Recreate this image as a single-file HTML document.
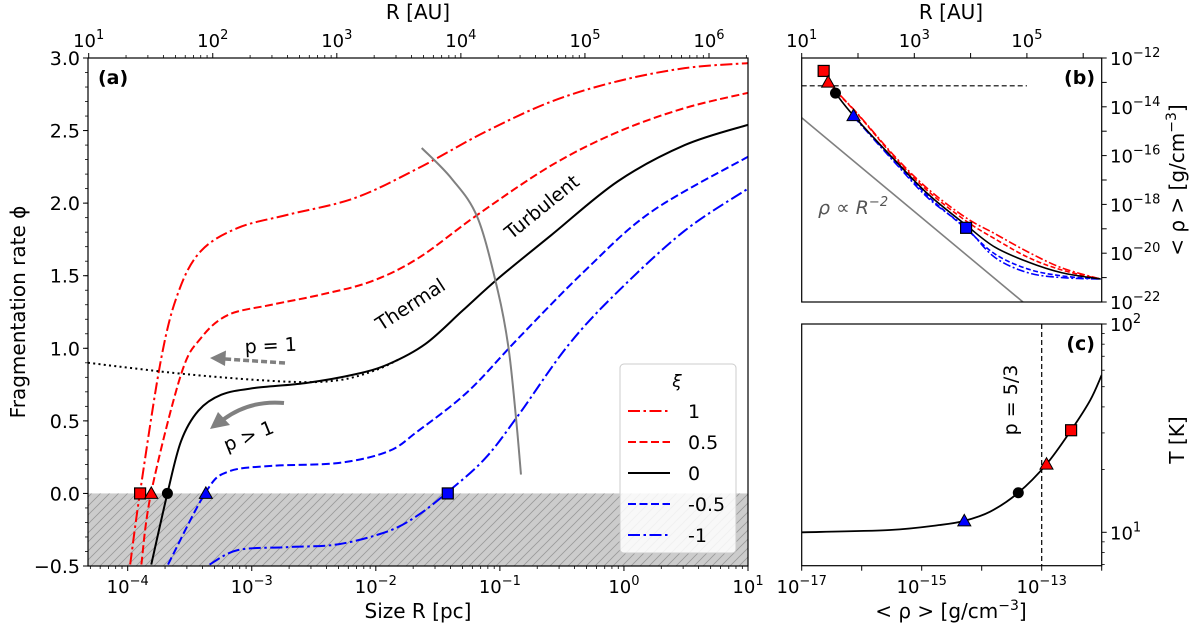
<!DOCTYPE html>
<html><head><meta charset="utf-8"><style>
body{margin:0;background:#fff}
svg{display:block;font-family:"DejaVu Sans","Liberation Sans",sans-serif}
</style></head><body>
<svg id="fig" width="1200" height="633" viewBox="0 0 1200 633" xmlns="http://www.w3.org/2000/svg">
<defs>
<pattern id="hatch" patternUnits="userSpaceOnUse" width="9" height="9">
<path d="M0,9 L9,0 M-2,2 L2,-2 M7,11 L11,7" stroke="#999" stroke-width="0.8"/>
</pattern>
<clipPath id="clipA"><rect x="88" y="58" width="660" height="508"/></clipPath>
<clipPath id="clipB"><rect x="801.7" y="58" width="300" height="244"/></clipPath>
<clipPath id="clipC"><rect x="801.7" y="324" width="300" height="241.7"/></clipPath>
</defs>
<g id="gA"></g>
<g id="gB"></g>
<g id="gC"></g>
</svg>
<script>
// ---------- Panel (a) data: log10 R[pc], phi ----------
const aXi1R = [-3.98,-3.90,-3.73,-3.59,-3.41,-3.11,-2.71,-2.17,-1.66,-1.12,-0.585,-0.05,0.49,1.0];
const aXi1P = [-0.49,0.01,0.93,1.39,1.67,1.83,1.92,2.035,2.24,2.49,2.70,2.84,2.93,2.965];
const aXi05R = [-3.89,-3.81,-3.57,-3.41,-3.19,-2.84,-2.44,-2.04,-1.66,-1.18,-0.585,-0.05,0.49,1.0];
const aXi05P = [-0.49,0.01,0.82,1.07,1.23,1.30,1.37,1.46,1.62,1.92,2.26,2.49,2.655,2.76];
const aXi0R = [-3.81,-3.68,-3.57,-3.43,-3.245,-2.98,-2.57,-2.17,-1.90,-1.60,-1.30,-1.015,-0.585,-0.05,0.49,1.0];
const aXi0P = [-0.49,0.0,0.36,0.57,0.68,0.726,0.76,0.82,0.89,1.03,1.26,1.48,1.78,2.15,2.40,2.54];
const aXim05R = [-3.675,-3.37,-3.19,-2.84,-2.30,-1.90,-1.66,-1.26,-0.85,-0.32,0.22,1.0];
const aXim05P = [-0.49,0.01,0.15,0.19,0.21,0.29,0.43,0.70,1.07,1.53,1.94,2.32];
const aXim1R = [-3.34,-3.11,-2.71,-2.30,-1.90,-1.66,-1.42,-1.12,-0.85,-0.45,-0.05,0.49,1.0];
const aXim1P = [-0.49,-0.39,-0.37,-0.35,-0.26,-0.15,0.01,0.24,0.54,1.02,1.39,1.81,2.10];
const aDotR = [-4.32,-3.51,-2.71,-2.30,-2.0,-1.8];
const aDotP = [0.90,0.82,0.77,0.78,0.85,0.93];
const aGrayR = [-1.63,-1.39,-1.18,-1.015,-0.93,-0.87,-0.83];
const aGrayP = [2.38,2.17,1.90,1.39,1.00,0.52,0.13];
const aMarkR = [-3.90,-3.81,-3.68,-3.37,-1.42];
const aMarkP = [0,0,0,0,0];
const aYTicks = [-0.5,0.0,0.5,1.0,1.5,2.0,2.5,3.0];
const aYTickLabels = ["\u22120.5","0.0","0.5","1.0","1.5","2.0","2.5","3.0"];
const aXTicks = [-4,-3,-2,-1,0,1];
const aTopTicks = [1,2,3,4,5,6];
const legendLabels = ["1","0.5","0","-0.5","-1"];
// ---------- Panel (b) data: log10 R[AU], log10 rho ----------
const bXi1R = [1.39,1.6,2.0,2.66,3.25,3.92,4.43,5.02,5.62,6.31];
const bXi1D = [-12.53,-13.3,-14.3,-16.05,-17.38,-18.55,-19.2,-19.95,-20.6,-21.06];
const bXi05R = [1.47,1.6,2.0,2.66,3.25,3.92,4.43,5.02,5.62,6.31];
const bXi05D = [-12.99,-13.35,-14.32,-16.1,-17.47,-18.68,-19.41,-20.17,-20.69,-21.06];
const bXi0R = [1.60,1.92,2.66,3.25,3.92,4.43,5.02,5.62,6.31];
const bXi0D = [-13.44,-14.36,-16.2,-17.59,-18.85,-19.75,-20.36,-20.80,-21.06];
const bXim05R = [1.92,2.66,3.25,3.92,4.43,5.02,5.62,6.31];
const bXim05D = [-14.36,-16.25,-17.68,-19.0,-20.03,-20.65,-20.93,-21.06];
const bXim1R = [1.92,2.66,3.25,3.92,4.43,5.02,5.62,6.31];
const bXim1D = [-14.4,-16.3,-17.75,-18.96,-20.17,-20.8,-21.0,-21.06];
const bSlopeR = [1.0,4.93];
const bSlopeD = [-14.45,-22.0];
const bMarkR = [1.39,1.47,1.60,1.92,3.92];
const bMarkD = [-12.53,-12.99,-13.44,-14.36,-18.96];
const bHLine = -13.14;
const bYLabels = [-12,-14,-16,-18,-20,-22];
const bXLabels = [1,3,5];
// ---------- Panel (c) data: log10 rho, log10 T ----------
const cRho = [-17,-15.53,-14.7,-14.29,-13.86,-13.39,-12.92,-12.51,-12.19,-12.0];
const cT = [1.0,1.011,1.035,1.055,1.099,1.19,1.327,1.49,1.635,1.755];
const cMarkRho = [-14.29,-13.39,-12.92,-12.51];
const cMarkT = [1.055,1.19,1.327,1.49];
const cVLine = -13;
const cXLabels = [-17,-15,-13];

const NS="http://www.w3.org/2000/svg";
function el(parent,tag,attrs,text){const e=document.createElementNS(NS,tag);for(const k in attrs)e.setAttribute(k,attrs[k]);if(text!==undefined)e.textContent=text;parent.appendChild(e);return e;}
function smooth(pts){let d="M"+pts[0][0].toFixed(2)+","+pts[0][1].toFixed(2);for(let i=0;i<pts.length-1;i++){const p0=pts[i-1]||pts[i],p1=pts[i],p2=pts[i+1],p3=pts[i+2]||p2;const c1=[p1[0]+(p2[0]-p0[0])/6,p1[1]+(p2[1]-p0[1])/6],c2=[p2[0]-(p3[0]-p1[0])/6,p2[1]-(p3[1]-p1[1])/6];d+=" C"+c1[0].toFixed(2)+","+c1[1].toFixed(2)+" "+c2[0].toFixed(2)+","+c2[1].toFixed(2)+" "+p2[0].toFixed(2)+","+p2[1].toFixed(2);}return d;}
function pow10(parent,x,y,exp,anchor,fs){const t=el(parent,'text',{x:x,y:y,'font-size':fs||18,'text-anchor':anchor||'middle',fill:'#000'});const a=document.createElementNS(NS,'tspan');a.textContent='10';t.appendChild(a);const b=document.createElementNS(NS,'tspan');b.setAttribute('dy','-8');b.setAttribute('font-size','13');b.textContent=String(exp).replace('-','\u2212');t.appendChild(b);return t;}
function marker(parent,type,x,y,fill){let m;if(type==='sq')m=el(parent,'rect',{x:x-5.5,y:y-5.5,width:11,height:11,fill:fill,stroke:'#000','stroke-width':1.2});else if(type==='tri')m=el(parent,'polygon',{points:(x)+','+(y-6.5)+' '+(x-6.5)+','+(y+5)+' '+(x+6.5)+','+(y+5),fill:fill,stroke:'#000','stroke-width':1});else m=el(parent,'circle',{cx:x,cy:y,r:5.5,fill:'#000'});return m;}
const DD="12,3.5,2.5,3.5", DA="8,3.5";
const styles=[{c:'#ff0000',d:DD},{c:'#ff0000',d:DA},{c:'#000',d:''},{c:'#0000ff',d:DA},{c:'#0000ff',d:DD}];
const mtypes=[['sq','#ff0000'],['tri','#ff0000'],['ci','#000'],['tri','#0000ff'],['sq','#0000ff']];

// ================= Panel A =================
(function(){
const g=document.getElementById('gA');
const X=l=>88+(l+4.32)*660/5.32, Y=p=>566-(p+0.5)*508/3.5;
const sh=el(g,'rect',{x:88,y:Y(0),width:660,height:566-Y(0),fill:'#cccccc'});

el(g,'rect',{x:88,y:Y(0),width:660,height:566-Y(0),fill:'url(#hatch)'});
const cg=el(g,'g',{'clip-path':'url(#clipA)'});
const series=[[aXi1R,aXi1P],[aXi05R,aXi05P],[aXi0R,aXi0P],[aXim05R,aXim05P],[aXim1R,aXim1P]];
const names=['curve-xi-1','curve-xi-0.5','curve-xi-0','curve-xi-minus-0.5','curve-xi-minus-1'];
series.forEach((s,i)=>{const pts=s[0].map((r,j)=>[X(r),Y(s[1][j])]);const p=el(cg,'path',{d:smooth(pts),fill:'none',stroke:styles[i].c,'stroke-width':2,'stroke-dasharray':styles[i].d});
});
const dp=el(cg,'path',{d:smooth(aDotR.map((r,j)=>[X(r),Y(aDotP[j])])),fill:'none',stroke:'#000','stroke-width':2,'stroke-dasharray':'2,3.3'});

const gp=el(cg,'path',{d:smooth(aGrayR.map((r,j)=>[X(r),Y(aGrayP[j])])),fill:'none',stroke:'#808080','stroke-width':2});

aMarkR.forEach((r,i)=>{const m=marker(g,mtypes[i][0],X(r),Y(aMarkP[i]),mtypes[i][1]);});
const ar1=el(g,'path',{d:'M285,363 L225,359',stroke:'#808080','stroke-width':3.5,fill:'none','stroke-dasharray':'6,3'});

el(g,'polygon',{points:'210,358 226,350.5 225,366',fill:'#808080'});
const ar2=el(g,'path',{d:'M284,403 Q250,400 224,419',stroke:'#808080','stroke-width':4,fill:'none'});

el(g,'polygon',{points:'210,429 218,412 230,425',fill:'#808080'});
const t1=el(g,'text',{x:271,y:352,'font-size':19,'text-anchor':'middle',transform:'rotate(-3 271 352)'},'p = 1');
const t2=el(g,'text',{x:251,y:442,'font-size':19,'text-anchor':'middle',transform:'rotate(-22 251 442)'},'p > 1');
const t3=el(g,'text',{x:414,y:310,'font-size':19,'text-anchor':'middle',transform:'rotate(-33 414 310)'},'Thermal');
const t4=el(g,'text',{x:546,y:212,'font-size':19,'text-anchor':'middle',transform:'rotate(-39 546 212)'},'Turbulent');
const pl=el(g,'text',{x:98,y:84,'font-size':19,'font-weight':'bold'},'(a)');
const fr=el(g,'rect',{x:88,y:58,width:660,height:508,fill:'none',stroke:'#000','stroke-width':1.2});

aYTicks.forEach((v,i)=>{el(g,'line',{x1:83,x2:88,y1:Y(v),y2:Y(v),stroke:'#000'});const t=el(g,'text',{x:80,y:Y(v)+7,'font-size':19,'text-anchor':'end'},aYTickLabels[i]);});
for(let v=-0.5;v<3.0;v+=0.1){el(g,'line',{x1:85,x2:88,y1:Y(v),y2:Y(v),stroke:'#000','stroke-width':0.8});}
for(let d=-5;d<=1;d++){for(let k=1;k<10;k++){const l=d+Math.log10(k);if(l<-4.32||l>1.001)continue;const L=k===1?5:3;el(g,'line',{x1:X(l),x2:X(l),y1:566,y2:566+L,stroke:'#000','stroke-width':k===1?1:0.8});}}
aXTicks.forEach(d=>{const t=pow10(g,X(d),593,d);});
const off=Math.log10(206265);
for(let d=1;d<=6;d++){for(let k=1;k<10;k++){const l=d+Math.log10(k)-off;if(l<-4.33||l>1.001)continue;const L=k===1?5:3;el(g,'line',{x1:X(l),x2:X(l),y1:58,y2:58-L,stroke:'#000','stroke-width':k===1?1:0.8});}}
aTopTicks.forEach(d=>{const t=pow10(g,X(d-off),47,d);});
const xl=el(g,'text',{x:418,y:618,'font-size':20,'text-anchor':'middle'},'Size R [pc]');
const tl=el(g,'text',{x:418,y:19,'font-size':20,'text-anchor':'middle'},'R [AU]');
const yl=el(g,'text',{x:25,y:312,'font-size':20,'text-anchor':'middle',transform:'rotate(-90 25 312)'},'Fragmentation rate \u03d5');
const lg=el(g,'g',{});
el(lg,'rect',{x:620,y:364,width:116,height:189,rx:4,fill:'#fff','fill-opacity':0.85,stroke:'#ccc'});
el(lg,'text',{x:677,y:387,'font-size':17,'font-style':'italic','text-anchor':'middle'},'\u03be');
legendLabels.forEach((lab,i)=>{const y=411+i*31;const e=el(lg,'g',{});
el(e,'line',{x1:628,x2:670,y1:y,y2:y,stroke:styles[i].c,'stroke-width':2,'stroke-dasharray':styles[i].d});el(e,'text',{x:688,y:y+7,'font-size':19},lab);});
})();

// ================= Panel B =================
(function(){
const g=document.getElementById('gB');
const X=l=>801.7+(l-1)*56.3, Y=l=>58+(-12-l)*24.4;
const cg=el(g,'g',{'clip-path':'url(#clipB)'});
const sl=el(cg,'line',{x1:X(bSlopeR[0]),y1:Y(bSlopeD[0]),x2:X(bSlopeR[1]),y2:Y(bSlopeD[1]),stroke:'#808080','stroke-width':1.6});

const hl=el(cg,'line',{x1:801.7,x2:X(5),y1:Y(bHLine),y2:Y(bHLine),stroke:'#000','stroke-width':1.2,'stroke-dasharray':'5,3'});

const series=[[bXi1R,bXi1D],[bXi05R,bXi05D],[bXi0R,bXi0D],[bXim05R,bXim05D],[bXim1R,bXim1D]];
[0,1,3,4,2].forEach(i=>{const s=series[i];const pts=s[0].map((r,j)=>[X(r),Y(s[1][j])]);const p=el(cg,'path',{d:smooth(pts),fill:'none',stroke:styles[i].c,'stroke-width':1.6,'stroke-dasharray':styles[i].d?(i===0||i===4?'8,2.5,2,2.5':'5,2.5'):''});
});
bMarkR.forEach((r,i)=>{const m=marker(g,mtypes[i][0],X(r),Y(bMarkD[i]),mtypes[i][1]);});
const tx=el(g,'text',{x:818,y:214,'font-size':19,fill:'#555','font-style':'italic'});
tx.innerHTML='\u03c1 \u221d R<tspan dy="-8" font-size="13">\u22122</tspan>';
el(g,'rect',{x:801.7,y:58,width:300,height:244,fill:'none',stroke:'#000','stroke-width':1.2});
const pl=el(g,'text',{x:1095,y:84,'font-size':19,'font-weight':'bold','text-anchor':'end'},'(b)');
for(let d=-22;d<=-12;d++){el(g,'line',{x1:1101.7,x2:1106.7,y1:Y(d),y2:Y(d),stroke:'#000'});}
bYLabels.forEach(d=>{const t=pow10(g,1110,Y(d)+7,d,'start');});
for(let d=1;d<=6;d++){el(g,'line',{x1:X(d),x2:X(d),y1:58,y2:53,stroke:'#000'});}
bXLabels.forEach(d=>{const t=pow10(g,X(d),47,d);});
const tl=el(g,'text',{x:951,y:19,'font-size':20,'text-anchor':'middle'},'R [AU]');
const yl=el(g,'text',{x:1184,y:180,'font-size':20,'text-anchor':'middle',transform:'rotate(-90 1184 180)'});
yl.innerHTML='&lt; \u03c1 &gt;  [g/cm<tspan dy="-8" font-size="14">\u22123</tspan><tspan dy="8">]</tspan>';
})();

// ================= Panel C =================
(function(){
const g=document.getElementById('gC');
const X=l=>801.7+(l+17)*60, Y=l=>324+(2-l)*208.3;
const cg=el(g,'g',{'clip-path':'url(#clipC)'});
const vl=el(cg,'line',{x1:X(cVLine),x2:X(cVLine),y1:324,y2:566,stroke:'#000','stroke-width':1.2,'stroke-dasharray':'5,3'});

const p=el(cg,'path',{d:smooth(cRho.map((r,j)=>[X(r),Y(cT[j])])),fill:'none',stroke:'#000','stroke-width':1.8});

const ct=[['tri','#0000ff'],['ci','#000'],['tri','#ff0000'],['sq','#ff0000']];
cMarkRho.forEach((r,i)=>{const m=marker(g,ct[i][0],X(r),Y(cMarkT[i]),ct[i][1]);});
el(g,'rect',{x:801.7,y:324,width:300,height:241.7,fill:'none',stroke:'#000','stroke-width':1.2});
const pl=el(g,'text',{x:1095,y:350,'font-size':19,'font-weight':'bold','text-anchor':'end'},'(c)');
const pt=el(g,'text',{x:1017,y:400,'font-size':19,'text-anchor':'middle',transform:'rotate(-90 1017 400)'},'p = 5/3');
for(let d=-17;d<=-12;d++){el(g,'line',{x1:X(d),x2:X(d),y1:565.7,y2:570.7,stroke:'#000'});}
cXLabels.forEach(d=>{const t=pow10(g,X(d),593,d);});
[7,8,9,20,30,40,50,60,70,80,90].forEach(v=>{const y=Y(Math.log10(v));if(y<324||y>566)return;el(g,'line',{x1:1101.7,x2:1104.7,y1:y,y2:y,stroke:'#000','stroke-width':0.8});});
[1,2].forEach(d=>{el(g,'line',{x1:1101.7,x2:1106.7,y1:Y(d),y2:Y(d),stroke:'#000'});const t=pow10(g,1110,Y(d)+7,d,'start');});
const yl=el(g,'text',{x:1184,y:440,'font-size':20,'text-anchor':'middle',transform:'rotate(-90 1184 440)'},'T [K]');
const xl=el(g,'text',{x:951,y:618,'font-size':20,'text-anchor':'middle'});
xl.innerHTML='&lt; \u03c1 &gt;  [g/cm<tspan dy="-8" font-size="14">\u22123</tspan><tspan dy="8">]</tspan>';
})();
</script>
</body></html>
